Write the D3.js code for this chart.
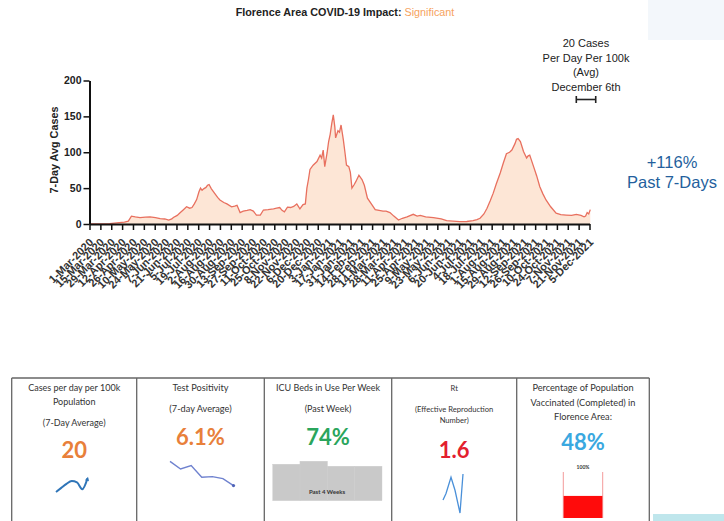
<!DOCTYPE html>
<html><head><meta charset="utf-8">
<script src="https://cdn.jsdelivr.net/npm/d3@7"></script>
<style>body{margin:0;background:#fff;} svg{display:block;}</style>
</head><body><svg id="c" width="724" height="521"></svg>
<script>
// ---- main chart data ----
const caseDates = ["2020-03-01","2020-03-20","2020-03-27","2020-04-05","2020-04-15","2020-04-20","2020-04-24","2020-04-29","2020-05-05","2020-05-12","2020-05-18","2020-05-25","2020-05-31","2020-06-06","2020-06-11","2020-06-15","2020-06-17","2020-06-22","2020-06-26","2020-06-30","2020-07-04","2020-07-08","2020-07-11","2020-07-14","2020-07-17","2020-07-20","2020-07-22","2020-07-24","2020-07-26","2020-07-29","2020-07-31","2020-08-02","2020-08-05","2020-08-09","2020-08-13","2020-08-16","2020-08-21","2020-08-25","2020-08-31","2020-09-04","2020-09-07","2020-09-11","2020-09-15","2020-09-20","2020-09-24","2020-09-28","2020-10-02","2020-10-07","2020-10-11","2020-10-17","2020-10-24","2020-10-28","2020-11-01","2020-11-04","2020-11-07","2020-11-11","2020-11-15","2020-11-19","2020-11-23","2020-11-27","2020-12-01","2020-12-04","2020-12-06","2020-12-08","2020-12-10","2020-12-14","2020-12-19","2020-12-23","2020-12-25","2020-12-27","2020-12-29","2021-01-01","2021-01-03","2021-01-05","2021-01-07","2021-01-09","2021-01-11","2021-01-12","2021-01-15","2021-01-17","2021-01-19","2021-01-22","2021-01-24","2021-01-26","2021-01-29","2021-01-31","2021-02-02","2021-02-05","2021-02-07","2021-02-11","2021-02-15","2021-02-18","2021-02-22","2021-02-27","2021-03-04","2021-03-09","2021-03-14","2021-03-18","2021-03-23","2021-03-28","2021-04-03","2021-04-08","2021-04-14","2021-04-22","2021-04-27","2021-05-01","2021-05-08","2021-05-18","2021-05-28","2021-06-04","2021-06-12","2021-06-21","2021-06-30","2021-07-08","2021-07-13","2021-07-17","2021-07-22","2021-07-26","2021-07-30","2021-08-03","2021-08-07","2021-08-12","2021-08-16","2021-08-20","2021-08-24","2021-08-27","2021-08-31","2021-09-02","2021-09-04","2021-09-07","2021-09-11","2021-09-15","2021-09-17","2021-09-19","2021-09-24","2021-09-28","2021-10-02","2021-10-06","2021-10-10","2021-10-16","2021-10-23","2021-10-29","2021-11-05","2021-11-12","2021-11-18","2021-11-24","2021-11-28","2021-11-30","2021-12-02","2021-12-04","2021-12-06"];
const caseValues = [0,0,0.5,1.5,2.5,4,11,10,9,9.5,10,9,7.5,7,5.5,7,9,12,16,20,24,22,23,28,34,45,50,47,49,51,54,55,49,43,37,33.5,30,28,24,25,26,16,18,19,20,18,12.5,12.5,19.5,20,21,22,23,19,17,23.5,23,24.5,28,21,27,28,50,62,76,82,87,96,92,103,80,99,115,125,140,152,135,120,130,128,138,117,100,82,80,72,50,55,59,68,62,54,36,28,20,19,18,18,16,11,5.6,8,10,13.5,11,12,10,9,7,4.6,4,3.2,3.5,4.6,6,8,14,22,32,43,56,71,85,98,100,103,112,118,119,115,101,92,95,96,80,67,52,42,33.5,24,15,13,12.5,12,13.5,12,10,11,16,14,20];
const yTicks = [0,50,100,150,200];
const xTickLabels = ["1-Mar-2020","15-Mar-2020","29-Mar-2020","12-Apr-2020","26-Apr-2020","10-May-2020","24-May-2020","7-Jun-2020","21-Jun-2020","5-Jul-2020","19-Jul-2020","2-Aug-2020","16-Aug-2020","30-Aug-2020","13-Sep-2020","27-Sep-2020","11-Oct-2020","25-Oct-2020","8-Nov-2020","22-Nov-2020","6-Dec-2020","20-Dec-2020","3-Jan-2021","17-Jan-2021","31-Jan-2021","14-Feb-2021","28-Feb-2021","14-Mar-2021","28-Mar-2021","11-Apr-2021","25-Apr-2021","9-May-2021","23-May-2021","6-Jun-2021","20-Jun-2021","4-Jul-2021","18-Jul-2021","1-Aug-2021","15-Aug-2021","29-Aug-2021","12-Sep-2021","26-Sep-2021","10-Oct-2021","24-Oct-2021","7-Nov-2021","21-Nov-2021","5-Dec-2021"];
const titleMain = "Florence Area COVID-19 Impact: ";
const titleLevel = "Significant";
const annotationLines = ["20 Cases","Per Day Per 100k","(Avg)","December 6th"];
const bracketDates = ["2021-11-18","2021-12-13"];
const changeLines = ["+116%","Past 7-Days"];

// ---- bottom panel data ----
const panelTitles = [
  ["Cases per day per 100k","Population","(7-Day Average)"],
  ["Test Positivity","(7-day Average)"],
  ["ICU Beds in Use Per Week","(Past Week)"],
  ["Rt","(Effective Reproduction","Number)"],
  ["Percentage of Population","Vaccinated (Completed) in","Florence Area:"]
];
const panelValues = ["20","6.1%","74%","1.6","48%"];
const casesSpark = [3,6,9,11,10,5,13];
const positivitySpark = [9.0,7.9,8.4,6.7,6.8,6.5,5.5];
const icuWeeks = [73,79,69,69];
const rtSpark = [0.8,1.0,1.5,1.1,0.4,1.6];
const vaccinatedPct = 48;

const parse = d3.timeParse("%Y-%m-%d");
const parseTick = d3.timeParse("%e-%b-%Y");
const data = caseDates.map((d,i)=>({date:parse(d), v:caseValues[i]}));
const tickDates = xTickLabels.map(s=>parseTick(s));

const svg = d3.select("#c");
svg.append("rect").attr("width",724).attr("height",521).attr("fill","#fff");
// faint background blocks at right
svg.append("rect").attr("x",648).attr("y",0).attr("width",76).attr("height",40).attr("fill","#f3f7fb");
svg.append("rect").attr("x",653).attr("y",514).attr("width",71).attr("height",7).attr("fill","#bfe6ec");

const x = d3.scaleTime().domain([tickDates[0], tickDates[tickDates.length-1]]).range([89.5, 589.5]);
const y = d3.scaleLinear().domain([0,200]).range([224, 80.5]);

// title
const t = svg.append("text").attr("x",345).attr("y",16).attr("text-anchor","middle")
  .attr("font-family","Liberation Sans, Arial, sans-serif").attr("font-size",10.8);
t.append("tspan").attr("font-weight","bold").attr("fill","#222").text(titleMain);
t.append("tspan").attr("fill","#f6a25e").text(titleLevel);

// area + line
const area = d3.area().x(d=>x(d.date)).y0(y(0)).y1(d=>y(d.v));
const line = d3.line().x(d=>x(d.date)).y(d=>y(d.v));
svg.append("path").datum(data).attr("d",area).attr("fill","#fde6d6");
svg.append("path").datum(data).attr("d",line).attr("fill","none").attr("stroke","#e8705f").attr("stroke-width",1.3);

// axes
const xAxis = d3.axisBottom(x).tickValues(tickDates).tickFormat((d,i)=>xTickLabels[i]).tickSize(6).tickSizeOuter(0);
const gx = svg.append("g").attr("transform",`translate(0,${y(0)})`).call(xAxis);
gx.select(".domain").attr("stroke","#111").attr("stroke-width",2);
gx.selectAll(".tick line").attr("stroke","#111").attr("stroke-width",1.5);
gx.selectAll(".tick text").attr("font-family","Liberation Sans, Arial, sans-serif").attr("font-size",11).attr("font-weight","bold")
  .attr("fill","#333").attr("text-anchor","end").attr("y",0).attr("dy",0)
  .attr("transform","translate(4,19) rotate(-45)");

const yAxis = d3.axisLeft(y).tickValues(yTicks).tickSize(6).tickSizeOuter(0);
const gy = svg.append("g").attr("transform",`translate(${x.range()[0]},0)`).call(yAxis);
gy.select(".domain").attr("stroke","#111").attr("stroke-width",2);
gy.selectAll(".tick line").attr("stroke","#111").attr("stroke-width",1.5);
gy.selectAll(".tick text").attr("font-family","Liberation Sans, Arial, sans-serif").attr("font-size",10.5).attr("font-weight","bold").attr("fill","#222").attr("x",-8);

svg.append("text").attr("transform",`translate(57.5,150) rotate(-90)`).attr("text-anchor","middle")
  .attr("font-family","Liberation Sans, Arial, sans-serif").attr("font-size",10.8).attr("font-weight","bold").attr("fill","#222")
  .text("7-Day Avg Cases");

// annotation
svg.append("g").selectAll("text").data(annotationLines).join("text")
  .attr("x",586).attr("y",(d,i)=>47+i*14.5).attr("text-anchor","middle")
  .attr("font-family","Liberation Sans, Arial, sans-serif").attr("font-size",11).attr("fill","#222").text(d=>d);
const bx0 = x(parse(bracketDates[0])), bx1 = x(parse(bracketDates[1]));
const br = svg.append("g").attr("stroke","#222").attr("stroke-width",1.6);
br.append("line").attr("x1",bx0).attr("x2",bx1).attr("y1",99.5).attr("y2",99.5);
br.append("line").attr("x1",bx0).attr("x2",bx0).attr("y1",96).attr("y2",103);
br.append("line").attr("x1",bx1).attr("x2",bx1).attr("y1",96).attr("y2",103);

// change
svg.append("g").selectAll("text").data(changeLines).join("text")
  .attr("x",672).attr("y",(d,i)=>168+i*20).attr("text-anchor","middle")
  .attr("font-family","Liberation Sans, Arial, sans-serif").attr("font-size",16.5).attr("fill","#245f9d").text(d=>d);

// ---- bottom panels ----
const px = [11.7,136.7,264.3,391.7,516.7,649.3];
const pTop = 378;
const pg = svg.append("g");
pg.append("line").attr("x1",px[0]).attr("x2",px[5]).attr("y1",pTop).attr("y2",pTop).attr("stroke","#666").attr("stroke-width",1.3);
pg.selectAll("line.v").data(px).join("line").attr("class","v").attr("x1",d=>d).attr("x2",d=>d).attr("y1",pTop).attr("y2",521)
  .attr("stroke","#666").attr("stroke-width",1.3);
const font2 = "Lato, 'Open Sans', sans-serif";
const titleY = [[391,405,426],[391,412],[391,412],[391,411.5,422.5],[391,406,419.5]];
const titleSize = [9,9.2,9,7.6,9.2];
panelTitles.forEach((lines,i)=>{
  const cx = (px[i]+px[i+1])/2;
  lines.forEach((s,j)=>{
    pg.append("text").attr("x",cx).attr("y",titleY[i][j]).attr("text-anchor","middle")
      .attr("font-family",font2).attr("font-size",titleSize[i]).attr("fill","#333").text(s);
  });
});
const valueColors = ["#e8803a","#e8803a","#2aa55c","#e3202e","#3aa8e0"];
const valueY = [457.5,444.5,444.5,457.5,449.5];
panelValues.forEach((v,i)=>{
  pg.append("text").attr("x",(px[i]+px[i+1])/2).attr("y",valueY[i]).attr("text-anchor","middle")
    .attr("font-family",font2).attr("font-weight","bold").attr("font-size",22).attr("fill",valueColors[i]).text(v);
});

// sparkline: cases
{
  const sx = d3.scaleLinear().domain([0,casesSpark.length-1]).range([56,87.5]);
  const sy = d3.scaleLinear().domain([0,14]).range([496,477]);
  pg.append("path").datum(casesSpark).attr("d",d3.line().x((d,i)=>sx(i)).y(d=>sy(d)).curve(d3.curveMonotoneX))
    .attr("fill","none").attr("stroke","#2f75b8").attr("stroke-width",2);
  const n = casesSpark.length-1;
  pg.append("path").attr("d",`M${sx(n)-2.5},${sy(casesSpark[n])+2}L${sx(n)+0.5},${sy(casesSpark[n])-1.5}L${sx(n)+1.5},${sy(casesSpark[n])+3}Z`).attr("fill","#2f75b8");
}
// sparkline: positivity
{
  const sx = d3.scaleLinear().domain([0,positivitySpark.length-1]).range([170,233.5]);
  const sy = d3.scaleLinear().domain([5,9.5]).range([489,458]);
  pg.append("path").datum(positivitySpark).attr("d",d3.line().x((d,i)=>sx(i)).y(d=>sy(d)))
    .attr("fill","none").attr("stroke","#6f82cf").attr("stroke-width",1.4);
  const n = positivitySpark.length-1;
  pg.append("circle").attr("cx",sx(n)).attr("cy",sy(positivitySpark[n])).attr("r",1.6).attr("fill","#4f63b8");
}
// ICU weekly bars
{
  const bxs = d3.scaleBand().domain(d3.range(icuWeeks.length)).range([272.7,381.7]).padding(0);
  const bys = d3.scaleLinear().domain([0,100]).range([500.7,450.7]);
  pg.selectAll("rect.icu").data(icuWeeks).join("rect").attr("class","icu")
    .attr("x",(d,i)=>bxs(i)).attr("width",bxs.bandwidth()+0.3).attr("y",d=>bys(d)).attr("height",d=>bys(0)-bys(d))
    .attr("fill","#c9c9c9").attr("stroke","#cfcfcf").attr("stroke-width",0.4);
  pg.append("text").attr("x",327).attr("y",494).attr("text-anchor","middle").attr("font-family",font2)
    .attr("font-weight","bold").attr("font-size",6).attr("fill","#333").text("Past 4 Weeks");
}
// Rt sparkline
{
  const sxs = [443,446,451,455,460,463];
  const sy = d3.scaleLinear().domain([0.4,1.6]).range([513,474]);
  pg.append("path").datum(rtSpark).attr("d",d3.line().x((d,i)=>sxs[i]).y(d=>sy(d)))
    .attr("fill","none").attr("stroke","#4a90d9").attr("stroke-width",1.3);
}
// vaccinated thermometer
{
  const vx0 = 563.3, vx1 = 602.7, vTop = 472, vBot = 518;
  const vs = d3.scaleLinear().domain([0,100]).range([vBot,vTop]);
  pg.append("rect").attr("x",vx0).attr("y",vs(vaccinatedPct)).attr("width",vx1-vx0).attr("height",vBot-vs(vaccinatedPct)).attr("fill","#ff0b0b");
  pg.append("line").attr("x1",vx0).attr("x2",vx0).attr("y1",vTop).attr("y2",vBot).attr("stroke","#f08080").attr("stroke-width",0.8);
  pg.append("line").attr("x1",vx1).attr("x2",vx1).attr("y1",vTop).attr("y2",vBot).attr("stroke","#f08080").attr("stroke-width",0.8);
  pg.append("text").attr("x",(vx0+vx1)/2).attr("y",469).attr("text-anchor","middle").attr("font-family",font2)
    .attr("font-weight","bold").attr("font-size",5).attr("fill","#333").text("100%");
}
</script></body></html>
